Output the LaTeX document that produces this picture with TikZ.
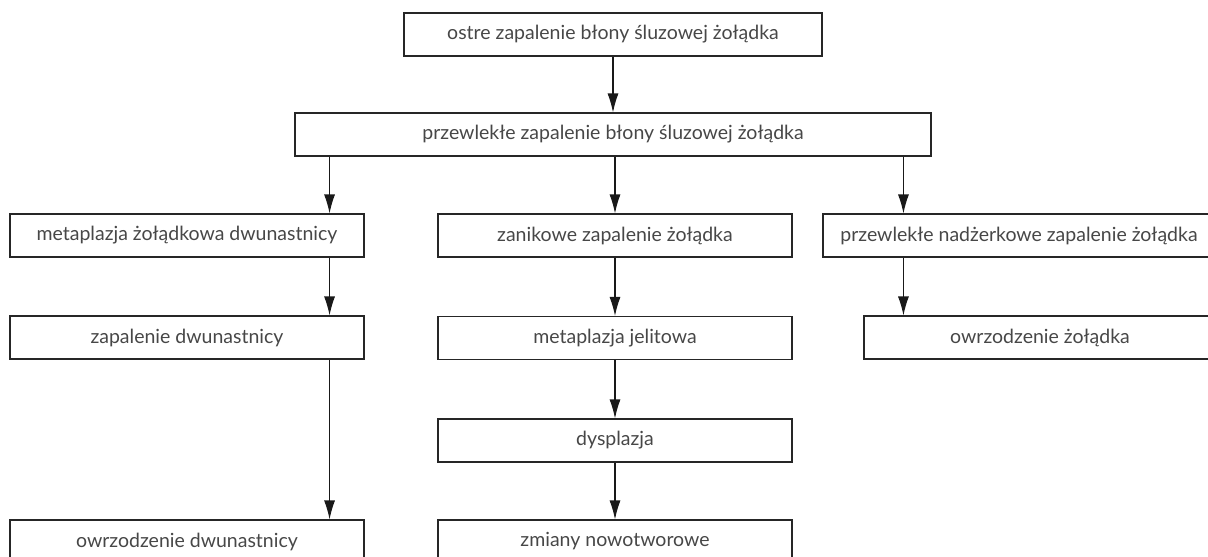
\documentclass[tikz,border=0pt]{standalone}
\usepackage{fontspec}
\setmainfont{Lato}
\usetikzlibrary{arrows.meta}

\begin{document}
\begin{tikzpicture}[x=1pt, y=-1pt,
        box/.style={draw=black!85, line width=1.1pt, minimum height=43pt,
            inner sep=0pt, text=black!72, font=\fontsize{19.5}{23}\selectfont},
        arr/.style={draw=black!90, line width=1.1pt,
            -{Latex[length=19pt, width=11pt]}}]
    \useasboundingbox (0, 0) rectangle (1208, 557);
    \node[box, minimum width=418pt] (ostre) at (613, 34.5)
        {ostre zapalenie błony śluzowej żołądka};
    \node[box, minimum width=636pt] (przew) at (613, 134.5)
        {przewlekłe zapalenie błony śluzowej żołądka};
    \node[box, minimum width=354pt] (metzol) at (187, 235.5)
        {metaplazja żołądkowa dwunastnicy};
    \node[box, minimum width=354pt] (zanik) at (615, 235.5)
        {zanikowe zapalenie żołądka};
    \node[box, minimum width=392pt] (nadz) at (1019, 235.5)
        {przewlekłe nadżerkowe zapalenie żołądka};
    \node[box, minimum width=354pt] (zapdw) at (187, 337.5)
        {zapalenie dwunastnicy};
    \node[box, minimum width=354pt] (metjel) at (615, 338)
        {metaplazja jelitowa};
    \node[box, minimum width=352pt] (owrzol) at (1040, 337.5)
        {owrzodzenie żołądka};
    \node[box, minimum width=354pt] (dysp) at (615, 440.5)
        {dysplazja};
    \node[box, minimum width=354pt] (owrdw) at (187, 541.5)
        {owrzodzenie dwunastnicy};
    \node[box, minimum width=354pt] (zmiany) at (615, 541.5)
        {zmiany nowotworowe};

    \draw[arr] (ostre) -- (przew);
    \draw[arr] ([xshift=-35pt]metzol.north east |- przew.south)
        -- ([xshift=-35pt]metzol.north east);
    \draw[arr] (zanik.north |- przew.south) -- (zanik);
    \draw[arr] ([xshift=81pt]nadz.north west |- przew.south)
        -- ([xshift=81pt]nadz.north west);
    \draw[arr] ([xshift=-35pt]metzol.south east)
        -- ([xshift=-35pt]zapdw.north east);
    \draw[arr] ([xshift=-35pt]zapdw.south east)
        -- ([xshift=-35pt]owrdw.north east);
    \draw[arr] (zanik) -- (metjel);
    \draw[arr] (metjel) -- (dysp);
    \draw[arr] (dysp) -- (zmiany);
    \draw[arr] ([xshift=40pt]owrzol.north west |- nadz.south)
        -- ([xshift=40pt]owrzol.north west);
\end{tikzpicture}
\end{document}
